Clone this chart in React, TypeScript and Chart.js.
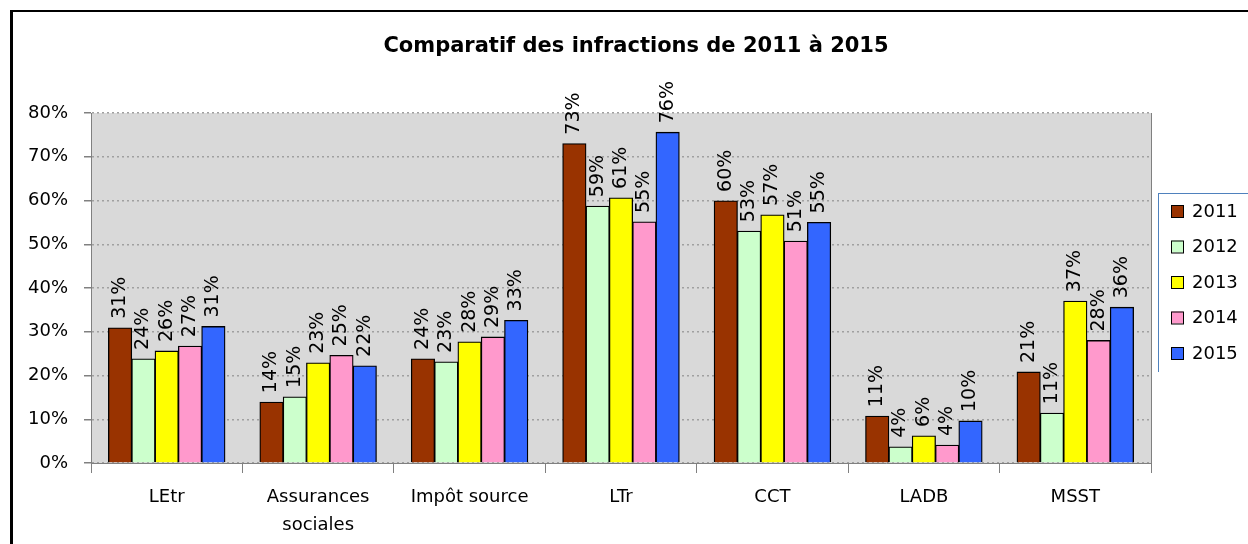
import React, { useEffect, useRef } from 'react';
import { Chart, registerables } from 'chart.js';

Chart.register(...registerables);

const title = 'Comparatif des infractions de 2011 à 2015';
const categories: (string | string[])[] = ['LEtr', ['Assurances', 'sociales'], 'Impôt source', 'LTr', 'CCT', 'LADB', 'MSST'];
const years = ['2011', '2012', '2013', '2014', '2015'];
const v2011 = [30.9, 13.9, 23.8, 73.0, 59.9, 10.7, 20.8];
const v2012 = [23.8, 15.1, 23.1, 58.7, 53.0, 3.7, 11.4];
const v2013 = [25.6, 22.9, 27.7, 60.6, 56.7, 6.2, 37.0];
const v2014 = [26.7, 24.6, 28.8, 55.1, 50.7, 4.1, 28.0];
const v2015 = [31.2, 22.2, 32.6, 75.6, 55.0, 9.6, 35.6];
const yTicks = [0, 10, 20, 30, 40, 50, 60, 70, 80];
const colors = ['#993300', '#CCFFCC', '#FFFF00', '#FF99CC', '#3366FF'];

const FONT = "'DejaVu Sans', sans-serif";

const decorPlugin = {
  id: 'decor',
  beforeDraw(chart: any) {
    const { ctx, chartArea: a, width, height } = chart;
    ctx.save();
    ctx.fillStyle = '#ffffff';
    ctx.fillRect(0, 0, width, height);
    ctx.fillStyle = '#D9D9D9';
    ctx.fillRect(a.left, a.top, a.right - a.left, a.bottom - a.top);
    ctx.restore();
  },
  afterDatasetsDraw(chart: any) {
    const { ctx } = chart;
    ctx.save();
    ctx.font = `19px ${FONT}`;
    ctx.fillStyle = '#000';
    ctx.textAlign = 'left';
    ctx.textBaseline = 'middle';
    chart.data.datasets.forEach((ds: any, di: number) => {
      const meta = chart.getDatasetMeta(di);
      meta.data.forEach((el: any, i: number) => {
        const txt = Math.round(ds.data[i]) + '%';
        ctx.save();
        ctx.translate(el.x, el.y - 9);
        ctx.rotate(-Math.PI / 2);
        ctx.fillText(txt, 0, 0);
        ctx.restore();
      });
    });
    ctx.restore();
  },
  afterDraw(chart: any) {
    const { ctx, chartArea: a, width, height } = chart;
    ctx.save();
    ctx.strokeStyle = '#808080';
    ctx.lineWidth = 1;
    ctx.beginPath();
    ctx.moveTo(a.right + 0.5, a.top);
    ctx.lineTo(a.right + 0.5, a.bottom);
    ctx.stroke();
    ctx.fillStyle = '#000';
    ctx.font = `bold 21px ${FONT}`;
    ctx.textAlign = 'center';
    ctx.textBaseline = 'middle';
    ctx.fillText(title, 636, 47);
    ctx.fillStyle = '#000';
    ctx.fillRect(10, 10, 3, height - 10);
    ctx.fillRect(10, 10, width - 10, 2);
    ctx.strokeStyle = '#4F81BD';
    ctx.lineWidth = 1;
    ctx.beginPath();
    ctx.moveTo(1158.5, 193);
    ctx.lineTo(1158.5, 372);
    ctx.moveTo(1158.5, 193.5);
    ctx.lineTo(width, 193.5);
    ctx.stroke();
    ctx.font = `18px ${FONT}`;
    ctx.textAlign = 'left';
    ctx.textBaseline = 'middle';
    chart.data.datasets.forEach((ds: any, i: number) => {
      const cy = 211 + i * 35.5;
      ctx.fillStyle = ds.backgroundColor;
      ctx.fillRect(1171, cy - 6, 12, 12);
      ctx.strokeStyle = '#000';
      ctx.strokeRect(1171.5, cy - 5.5, 12, 12);
      ctx.fillStyle = '#000';
      ctx.fillText(ds.label, 1192, cy + 1);
    });
    ctx.restore();
  },
};

export default function App() {
  const ref = useRef<HTMLCanvasElement>(null);
  useEffect(() => {
    if (!ref.current) return;
    const series = [v2011, v2012, v2013, v2014, v2015];
    const chart = new Chart(ref.current, {
      type: 'bar',
      data: {
        labels: categories as any,
        datasets: years.map((y, i) => ({
          label: y,
          data: series[i],
          backgroundColor: colors[i],
          borderColor: '#000000',
          borderWidth: 1.3,
          borderSkipped: 'bottom',
          inflateAmount: 0.4,
          categoryPercentage: 0.77,
          barPercentage: 1.0,
        })),
      },
      options: {
        animation: false,
        responsive: false,
        maintainAspectRatio: false,
        events: [],
        layout: { padding: { left: 0, top: 113, right: 97, bottom: 0 } },
        plugins: { legend: { display: false }, title: { display: false }, tooltip: { enabled: false } },
        scales: {
          x: {
            grid: { display: true, drawOnChartArea: false, drawTicks: true, tickLength: 10, color: '#808080', offset: true },
            border: { display: true, color: '#808080', width: 1 },
            ticks: { font: { family: FONT, size: 18, lineHeight: 1.55 }, color: '#000', padding: 10, maxRotation: 0, autoSkip: false },
            afterFit: (s: any) => { s.height = 81; },
          },
          y: {
            min: 0,
            max: 80,
            afterBuildTicks: (s: any) => { s.ticks = yTicks.map((v) => ({ value: v })); },
            ticks: { callback: (v: any) => v + '%', font: { family: FONT, size: 18 }, color: '#000', padding: 16 },
            grid: { color: '#A0A0A0', tickColor: '#808080', tickLength: 7, drawTicks: true, lineWidth: 1.5 },
            border: { display: true, color: '#808080', width: 1, dash: [2, 3] },
            afterFit: (s: any) => { s.width = 91; },
          },
        },
      },
      plugins: [decorPlugin],
    });
    return () => chart.destroy();
  }, []);
  return (
    <div style={{ position: 'absolute', left: 0, top: 0, width: 1248, height: 544, background: '#fff' }}>
      <canvas ref={ref} width={1248} height={544} style={{ display: 'block', width: 1248, height: 544 }} />
    </div>
  );
}
